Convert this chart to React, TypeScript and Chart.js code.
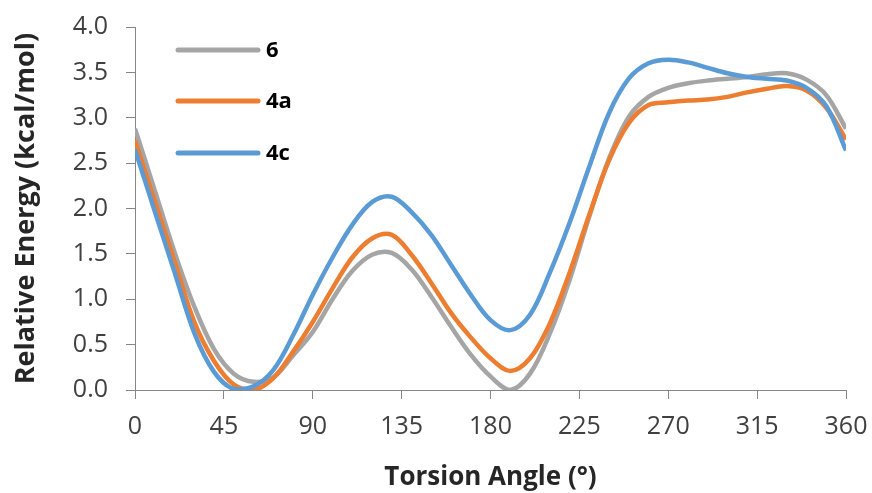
import React, { useEffect, useRef } from "react";
import { Chart, registerables } from "chart.js";

Chart.register(...registerables);

const angles = [0, 10, 20, 30, 40, 50, 60, 70, 80, 90, 100, 110, 120, 130, 140, 150, 160, 170, 180, 190, 200, 210, 220, 230, 240, 250, 260, 270, 280, 290, 300, 310, 320, 330, 340, 350, 360];

const series6 = [2.88, 2.20, 1.52, 0.92, 0.45, 0.18, 0.09, 0.14, 0.38, 0.64, 1.00, 1.31, 1.49, 1.51, 1.33, 1.03, 0.70, 0.39, 0.15, 0.0, 0.18, 0.62, 1.21, 1.91, 2.55, 3.01, 3.23, 3.33, 3.38, 3.41, 3.43, 3.45, 3.48, 3.49, 3.42, 3.25, 2.88];
const series4a = [2.75, 2.08, 1.42, 0.75, 0.32, 0.06, 0.0, 0.13, 0.42, 0.75, 1.12, 1.46, 1.67, 1.71, 1.49, 1.18, 0.85, 0.58, 0.35, 0.21, 0.35, 0.73, 1.29, 1.93, 2.53, 2.94, 3.14, 3.17, 3.19, 3.20, 3.23, 3.28, 3.32, 3.35, 3.30, 3.11, 2.76];
const series4c = [2.65, 1.97, 1.30, 0.63, 0.20, 0.01, 0.04, 0.22, 0.60, 1.05, 1.46, 1.82, 2.07, 2.13, 1.96, 1.71, 1.38, 1.05, 0.77, 0.66, 0.83, 1.29, 1.84, 2.46, 3.05, 3.43, 3.60, 3.64, 3.61, 3.55, 3.49, 3.45, 3.43, 3.41, 3.33, 3.13, 2.64];

const seriesNames = ["6", "4a", "4c"];
const seriesColors = ["#A5A5A5", "#ED7D31", "#5B9BD5"];

const xTitle = "Torsion Angle (°)";
const yTitle = "Relative Energy (kcal/mol)";

const FONT = "'Open Sans', Lato, sans-serif";
const AXIS_COLOR = "#868686";

const legendPlugin = {
  id: "insideLegend",
  afterDatasetsDraw(chart: any) {
    const ctx = chart.ctx;
    const area = chart.chartArea;
    const x0 = area.left + 43;
    const x1 = area.left + 123;
    const ys = [50, 101, 153];
    ctx.save();
    chart.data.datasets.forEach((ds: any, i: number) => {
      const y = ys[i];
      ctx.strokeStyle = ds.borderColor;
      ctx.lineWidth = 5;
      ctx.lineCap = "round";
      ctx.beginPath();
      ctx.moveTo(x0, y);
      ctx.lineTo(x1, y);
      ctx.stroke();
      ctx.fillStyle = "#000";
      ctx.font = `bold 22px ${FONT}`;
      ctx.textBaseline = "middle";
      ctx.textAlign = "left";
      ctx.fillText(ds.label, x1 + 8, y + 1);
    });
    ctx.restore();
  },
};

export default function App() {
  const canvasRef = useRef<HTMLCanvasElement | null>(null);

  useEffect(() => {
    document.body.style.margin = "0";
    const canvas = canvasRef.current;
    if (!canvas) return;
    const seriesData = [series6, series4a, series4c];
    const chart = new Chart(canvas, {
      type: "line",
      data: {
        datasets: seriesData.map((vals, i) => ({
          label: seriesNames[i],
          data: angles.map((a, j) => ({ x: a, y: vals[j] })),
          borderColor: seriesColors[i],
          backgroundColor: seriesColors[i],
          borderWidth: 4.5,
          pointRadius: 0,
          tension: 0.35,
          fill: false,
          order: seriesData.length - i,
        })),
      },
      options: {
        responsive: false,
        animation: false,
        maintainAspectRatio: false,
        layout: { padding: { left: 0, right: 26, top: 27, bottom: 0 } },
        plugins: {
          legend: { display: false },
          tooltip: { enabled: false },
        },
        scales: {
          x: {
            type: "linear",
            min: 0,
            max: 360,
            afterFit: (s: any) => {
              s.height = 103;
              s.paddingLeft = 0;
              s.paddingRight = 0;
            },
            ticks: {
              stepSize: 45,
              color: "#404040",
              font: { family: FONT, size: 25 },
              padding: 13,
              maxRotation: 0,
            },
            grid: {
              drawOnChartArea: false,
              drawTicks: true,
              tickLength: 9,
              color: AXIS_COLOR,
            },
            border: { color: AXIS_COLOR, width: 1 },
            title: {
              display: true,
              text: xTitle,
              color: "#262626",
              font: { family: FONT, size: 26, weight: "bold" },
              padding: { top: 4, bottom: 0 },
            },
          },
          y: {
            type: "linear",
            min: 0,
            max: 4,
            afterFit: (s: any) => {
              s.width = 135;
              s.paddingTop = 0;
              s.paddingBottom = 0;
            },
            ticks: {
              stepSize: 0.5,
              color: "#404040",
              font: { family: FONT, size: 25 },
              padding: 18,
              callback: (v: any) => Number(v).toFixed(1),
            },
            grid: {
              drawOnChartArea: false,
              drawTicks: true,
              tickLength: 9,
              color: AXIS_COLOR,
            },
            border: { color: AXIS_COLOR, width: 1 },
            title: {
              display: true,
              text: yTitle,
              color: "#262626",
              font: { family: FONT, size: 27, weight: "bold" },
              padding: { top: 10, bottom: 0 },
            },
          },
        },
      },
      plugins: [legendPlugin],
    });
    return () => chart.destroy();
  }, []);

  return (
    <div style={{ position: "absolute", left: 0, top: 0, width: 872, height: 493, background: "#fff" }}>
      <canvas ref={canvasRef} width={872} height={493} style={{ width: 872, height: 493 }} />
    </div>
  );
}
